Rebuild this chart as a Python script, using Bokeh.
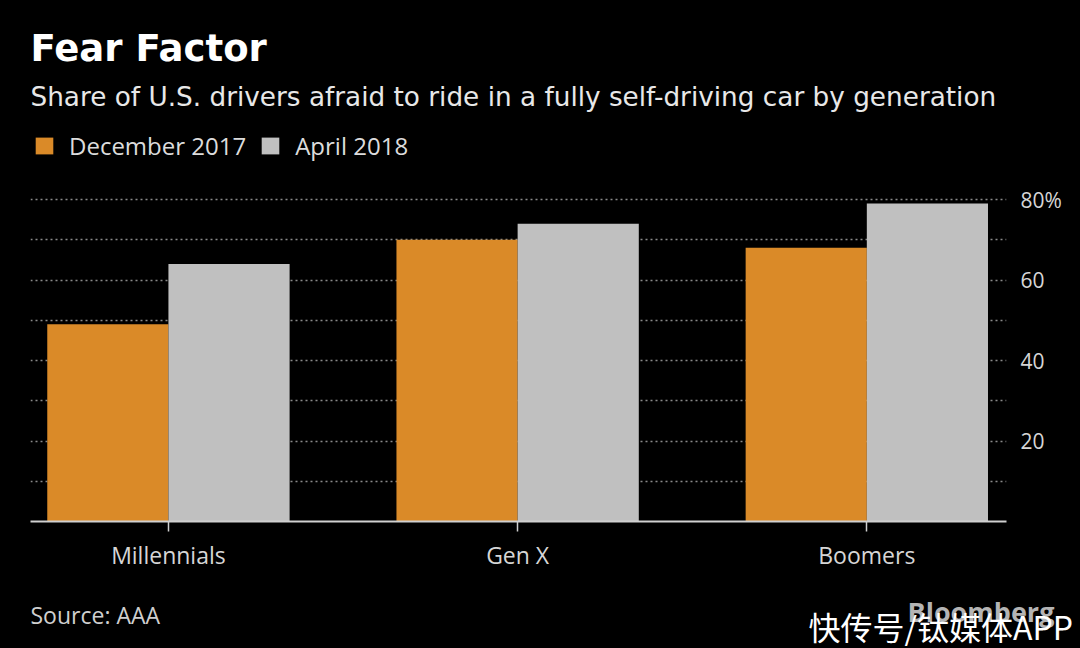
from bokeh.plotting import figure
from bokeh.layouts import column
from bokeh.models import (Range1d, FixedTicker, Label, Legend, LegendItem, ColumnDataSource)
from bokeh.transform import dodge
from bokeh.embed import file_html
from bokeh.resources import INLINE

# ---- data ----
categories = ["Millennials", "Gen X", "Boomers"]
dec_2017 = [49, 70, 68]
apr_2018 = [64, 74, 79]
series_names = ["December 2017", "April 2018"]
y_ticks = [20, 40, 60, 80]
y_tick_labels = ["20", "40", "60", "80%"]
grid_values = [10, 20, 30, 40, 50, 60, 70, 80]
title_text = "Fear Factor"
subtitle_text = "Share of U.S. drivers afraid to ride in a fully self-driving car by generation"
source_text = "Source: AAA"
brand_text = "Bloomberg"
watermark_text = "快传号/钛媒体APP"

# ---- style / layout ----
W = 1080
CHART_H = 590
FOOT_H = 58
FONT = "Open Sans"
HEAD_FONT = "DejaVu Sans"
ORANGE = "#DA8A28"
GRAY = "#C0C0C0"
BG = "#000000"
BAR_W = 0.347
FRAME_L, FRAME_R, FRAME_B = 30, 1006, 521
PX_PER_UNIT = 4.025

xs = list(range(len(categories)))
src = ColumnDataSource(dict(x=xs, dec=dec_2017, apr=apr_2018))

p = figure(width=W, height=CHART_H, output_backend="svg", toolbar_location=None,
           x_range=Range1d(-0.395, 2.4), y_range=Range1d(0, FRAME_B / PX_PER_UNIT),
           y_axis_location="right",
           min_border_left=FRAME_L, min_border_right=W - FRAME_R,
           min_border_top=0, min_border_bottom=CHART_H - FRAME_B,
           background_fill_color=BG, border_fill_color=BG, outline_line_color=None)
p.frame_align = False

r1 = p.vbar(x=dodge("x", -BAR_W / 2, range=p.x_range), top="dec", width=BAR_W, bottom=0,
            source=src, fill_color=ORANGE, line_color=None)
r2 = p.vbar(x=dodge("x", BAR_W / 2, range=p.x_range), top="apr", width=BAR_W, bottom=0,
            source=src, fill_color=GRAY, line_color=None)

# grid
p.xgrid.visible = False
p.ygrid.ticker = FixedTicker(ticks=grid_values)
p.ygrid.grid_line_color = "#8a8a8a"
p.ygrid.grid_line_dash = "2 3"
p.ygrid.grid_line_width = 1.5

# x axis
xa = p.xaxis[0]
xa.ticker = FixedTicker(ticks=xs)
xa.major_label_overrides = {i: c for i, c in enumerate(categories)}
xa.axis_line_color = "#d0d0d0"
xa.axis_line_width = 2
xa.major_tick_in = 0
xa.major_tick_out = 10
xa.major_tick_line_color = "#d0d0d0"
xa.major_tick_line_width = 1.5
xa.minor_tick_out = 0
xa.minor_tick_in = 0
xa.major_label_standoff = 7
xa.major_label_text_font = FONT
xa.major_label_text_font_size = "23px"
xa.major_label_text_color = "#d6d6d6"

# y axis (right)
ya = p.yaxis[0]
ya.ticker = FixedTicker(ticks=y_ticks)
ya.major_label_overrides = {t: l for t, l in zip(y_ticks, y_tick_labels)}
ya.axis_line_color = None
ya.major_tick_in = 0
ya.major_tick_out = 0
ya.minor_tick_in = 0
ya.minor_tick_out = 0
ya.major_label_standoff = 14
ya.major_label_text_font = FONT
ya.major_label_text_font_size = "21px"
ya.major_label_text_color = "#d6d6d6"

# legend (inside the tall frame)
legend = Legend(items=[LegendItem(label=series_names[0], renderers=[r1]),
                       LegendItem(label=series_names[1], renderers=[r2])],
                orientation="horizontal", location=(3, FRAME_B - 162),
                background_fill_alpha=0, border_line_color=None,
                label_text_font=FONT, label_text_font_size="24px",
                label_text_color="#dcdcdc", glyph_width=22, glyph_height=21,
                label_standoff=14, spacing=13, padding=0, margin=0,
                label_height=21)
p.add_layout(legend)


def make_label(text, x, y, size, color, style="normal", font=FONT):
    return Label(x=x, y=y, x_units="screen", y_units="screen", text=text,
                 text_font=font, text_font_size=size, text_color=color,
                 text_font_style=style, text_align="left", text_baseline="alphabetic")

# header texts inside the frame (frame-relative, y up from frame bottom)
p.add_layout(make_label(title_text, 0, FRAME_B - 64 + 16, "37px", "#ffffff", "bold", HEAD_FONT))
p.add_layout(make_label(subtitle_text, 0, FRAME_B - 106 + 10, "26.3px", "#e8e8e8", font=HEAD_FONT))

# footer strip
f = figure(width=W, height=FOOT_H, output_backend="svg", toolbar_location=None,
           x_axis_type=None, y_axis_type=None, min_border=0,
           x_range=Range1d(0, 1), y_range=Range1d(0, 1),
           background_fill_color=BG, border_fill_color=BG, outline_line_color=None)
f.frame_align = False
f.grid.visible = False
FOOT_BOTTOM = CHART_H + FOOT_H  # page y of footer bottom
f.add_layout(make_label(source_text, 30, FOOT_BOTTOM - 624 + 10, "23px", "#cfcfcf"))
f.add_layout(make_label(brand_text, 907, FOOT_BOTTOM - 623 + 12, "27px", "#b4b4b4", "bold"))
f.add_layout(make_label(watermark_text, 808, FOOT_BOTTOM - 641 + 16, "32px", "#ffffff",
                        font="Noto Sans CJK SC"))

layout = column(p, f, spacing=0)

html = file_html(layout, INLINE)
html = html.replace("</head>", "<style>html,body{background:#000000;}</style></head>", 1)
open("out.html", "w").write(html)
